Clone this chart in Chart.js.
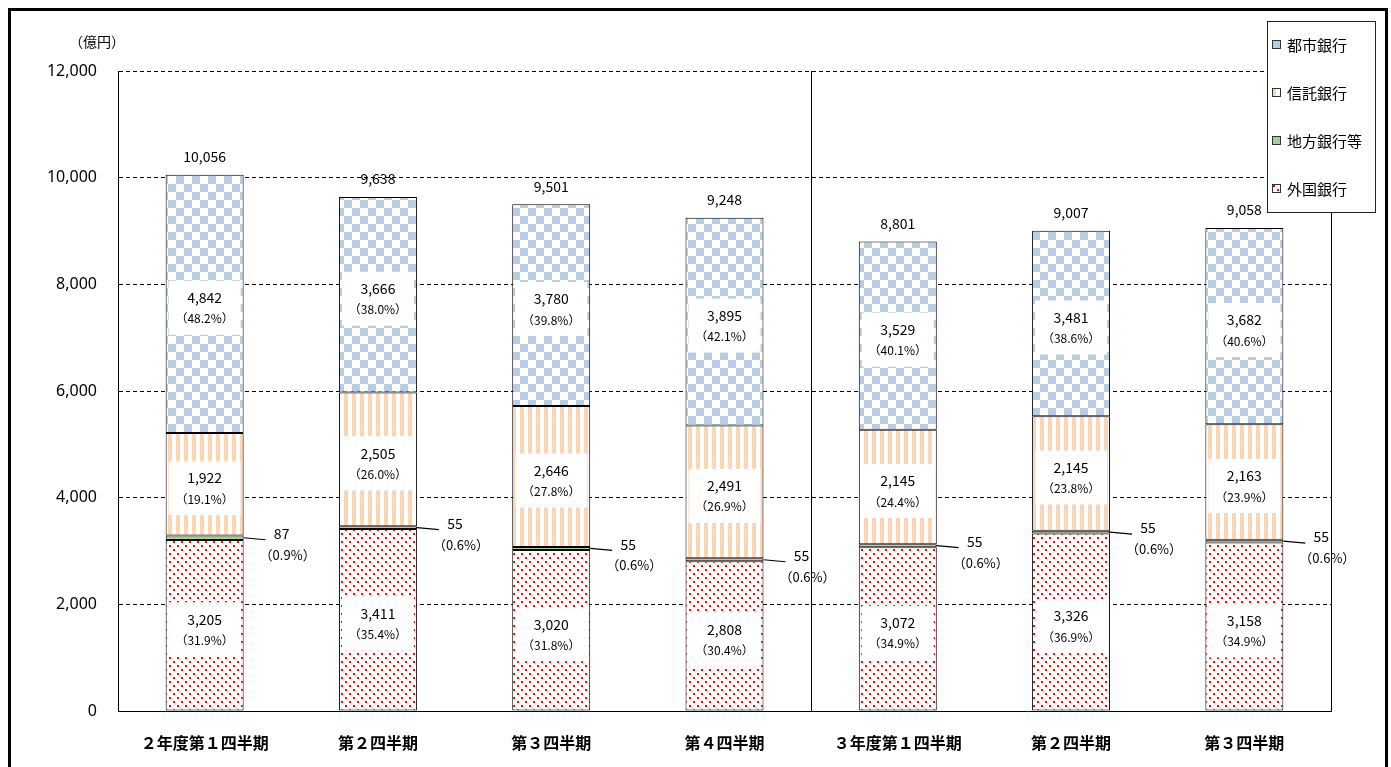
<!DOCTYPE html>
<html>
<head>
<meta charset="utf-8">
<script src="https://cdn.jsdelivr.net/npm/chart.js@4"></script>
<style>
  html, body { margin: 0; padding: 0; background: #fff; }
  canvas { display: block; }
</style>
</head>
<body>
<canvas id="chart" width="1391" height="767"></canvas>
<script>
// Data
const categories = ['２年度第１四半期', '第２四半期', '第３四半期', '第４四半期', '３年度第１四半期', '第２四半期', '第３四半期'];
const seriesNames = ['外国銀行', '地方銀行等', '信託銀行', '都市銀行'];
const foreignBanks = [3205, 3411, 3020, 2808, 3072, 3326, 3158];
const regionalBanks = [87, 55, 55, 55, 55, 55, 55];
const trustBanks = [1922, 2505, 2646, 2491, 2145, 2145, 2163];
const cityBanks = [4842, 3666, 3780, 3895, 3529, 3481, 3682];
const foreignPct = [31.9, 35.4, 31.8, 30.4, 34.9, 36.9, 34.9];
const regionalPct = [0.9, 0.6, 0.6, 0.6, 0.6, 0.6, 0.6];
const trustPct = [19.1, 26.0, 27.8, 26.9, 24.4, 23.8, 23.9];
const cityPct = [48.2, 38.0, 39.8, 42.1, 40.1, 38.6, 40.6];
const totals = [10056, 9638, 9501, 9248, 8801, 9007, 9058];
const yMin = 0, yMax = 12000, yStep = 2000;
const unitLabel = '（億円）';

const JP = "'Noto Sans CJK JP', 'Noto Sans', sans-serif";

// Fill patterns
function makePattern(w, h, draw) {
    const c = document.createElement('canvas');
    c.width = w; c.height = h;
    const g = c.getContext('2d');
    g.fillStyle = '#fff';
    g.fillRect(0, 0, w, h);
    draw(g);
    return document.getElementById('chart').getContext('2d').createPattern(c, 'repeat');
}
const checkerFill = makePattern(16, 16, g => {
    g.fillStyle = '#b8cce4';
    g.fillRect(0, 0, 8, 8);
    g.fillRect(8, 8, 8, 8);
});
const stripeFill = makePattern(8, 4, g => {
    g.fillStyle = '#fcd5b4';
    g.fillRect(0, 0, 4, 4);
});
const greenFill = '#a9d08e';
const dotFill = makePattern(8, 8, g => {
    g.fillStyle = '#ff0000';
    g.fillRect(1, 1, 2, 2);
    g.fillRect(5, 5, 2, 2);
});
// same order as seriesNames: foreign, regional, trust, city
const fills = [dotFill, greenFill, stripeFill, checkerFill];
const seriesData = [foreignBanks, regionalBanks, trustBanks, cityBanks];
const seriesPct = [foreignPct, regionalPct, trustPct, cityPct];

const fmt = v => v.toLocaleString('en-US');
const pctText = p => '（' + p.toFixed(1) + '%）';

const overlayPlugin = {
    id: 'overlay',
    beforeDatasetsDraw(chart) {
        const { ctx, chartArea: a, scales: { x } } = chart;
        ctx.save();
        ctx.strokeStyle = '#000';
        ctx.lineWidth = 1;
        // right border and fiscal year separator
        const sepX = Math.round((x.getPixelForValue(3) + x.getPixelForValue(4)) / 2) + 0.5;
        ctx.beginPath();
        ctx.moveTo(sepX, a.top); ctx.lineTo(sepX, a.bottom);
        ctx.moveTo(Math.round(a.right) + 0.5, a.top); ctx.lineTo(Math.round(a.right) + 0.5, a.bottom);
        ctx.stroke();
        ctx.restore();
    },
    afterDatasetsDraw(chart) {
        const { ctx } = chart;
        ctx.save();
        ctx.textAlign = 'center';
        ctx.textBaseline = 'middle';
        ctx.fillStyle = '#000';

        // labels inside segments
        [0, 2, 3].forEach(di => {
            const meta = chart.getDatasetMeta(di);
            meta.data.forEach((bar, i) => {
                const cy = (bar.y + bar.base) / 2 + 4;
                ctx.fillStyle = '#fff';
                ctx.fillRect(bar.x - 36, cy - 27, 72, 54);
                ctx.fillStyle = '#000';
                ctx.font = '14px ' + JP;
                ctx.fillText(fmt(seriesData[di][i]), bar.x, cy - 10);
                ctx.font = '12px ' + JP;
                ctx.fillText(pctText(seriesPct[di][i]), bar.x, cy + 11);
            });
        });

        // regional banks: label outside with leader line
        const rMeta = chart.getDatasetMeta(1);
        rMeta.data.forEach((bar, i) => {
            const cy = (bar.y + bar.base) / 2;
            const right = bar.x + bar.width / 2;
            ctx.strokeStyle = '#000';
            ctx.lineWidth = 1.2;
            ctx.beginPath();
            ctx.moveTo(right, cy);
            ctx.lineTo(right + 22, cy + 2);
            ctx.stroke();
            ctx.font = '14px ' + JP;
            ctx.fillText(fmt(regionalBanks[i]), right + 38, cy - 4);
            ctx.font = '13px ' + JP;
            ctx.fillText(pctText(regionalPct[i]), right + 44, cy + 17);
        });

        // totals above bars
        const top = chart.getDatasetMeta(3);
        ctx.font = '14px ' + JP;
        top.data.forEach((bar, i) => {
            ctx.fillText(fmt(totals[i]), bar.x, bar.y - 18);
        });
        ctx.restore();
    },
    afterDraw(chart) {
        const { ctx } = chart;
        ctx.save();
        // unit label
        ctx.fillStyle = '#000';
        ctx.font = '14px ' + JP;
        ctx.textAlign = 'center';
        ctx.textBaseline = 'middle';
        ctx.fillText(unitLabel, 97, 42);

        // legend box
        const lx = 1267, ly = 21, lw = 108, lh = 191;
        ctx.fillStyle = '#fff';
        ctx.fillRect(lx, ly, lw, lh);
        ctx.strokeStyle = '#222';
        ctx.lineWidth = 1;
        ctx.strokeRect(lx + 0.5, ly + 0.5, lw, lh);
        const order = [3, 2, 1, 0];
        order.forEach((di, k) => {
            const cy = 45 + k * 48;
            // marker: pattern aligned to the marker corner
            ctx.save();
            ctx.translate(1272, cy - 5);
            ctx.fillStyle = '#fff';
            ctx.fillRect(0, 0, 9, 9);
            ctx.fillStyle = fills[di];
            ctx.fillRect(1, 1, 7, 7);
            ctx.strokeStyle = '#333';
            ctx.strokeRect(0.5, 0.5, 8, 8);
            ctx.restore();
            ctx.fillStyle = '#000';
            ctx.font = '15px ' + JP;
            ctx.textAlign = 'left';
            ctx.fillText(seriesNames[di], 1287, cy);
        });

        // outer frame
        ctx.strokeStyle = '#000';
        ctx.lineWidth = 3;
        ctx.beginPath();
        ctx.moveTo(9.5, 800);
        ctx.lineTo(9.5, 9.5);
        ctx.lineTo(1386.5, 9.5);
        ctx.lineTo(1386.5, 800);
        ctx.stroke();
        ctx.restore();
    }
};

new Chart(document.getElementById('chart'), {
    type: 'bar',
    data: {
        labels: categories,
        datasets: seriesNames.map((name, di) => ({
            label: name,
            data: seriesData[di],
            backgroundColor: fills[di],
            borderColor: '#000',
            borderWidth: 1,
            borderSkipped: false,
            barPercentage: 0.45,
            categoryPercentage: 1.0
        }))
    },
    options: {
        responsive: false,
        animation: false,
        layout: { padding: { top: 71, right: 60, left: 0, bottom: 0 } },
        plugins: {
            legend: { display: false },
            tooltip: { enabled: false }
        },
        scales: {
            x: {
                stacked: true,
                grid: { display: false },
                border: { display: true, color: '#000', width: 1 },
                ticks: {
                    color: '#000',
                    padding: 14,
                    font: { family: JP, size: 16, weight: 'bold' }
                },
                afterFit: s => { s.height = 56; }
            },
            y: {
                stacked: true,
                min: yMin,
                max: yMax,
                grid: { color: '#000', lineWidth: 1, drawTicks: false },
                border: { display: true, color: '#000', width: 1, dash: [4, 3] },
                ticks: {
                    stepSize: yStep,
                    color: '#000',
                    padding: 21,
                    font: { family: "'Noto Sans', sans-serif", size: 16 },
                    callback: v => fmt(v)
                },
                afterFit: s => { s.width = 118; }
            }
        }
    },
    plugins: [overlayPlugin]
});
</script>
</body>
</html>
